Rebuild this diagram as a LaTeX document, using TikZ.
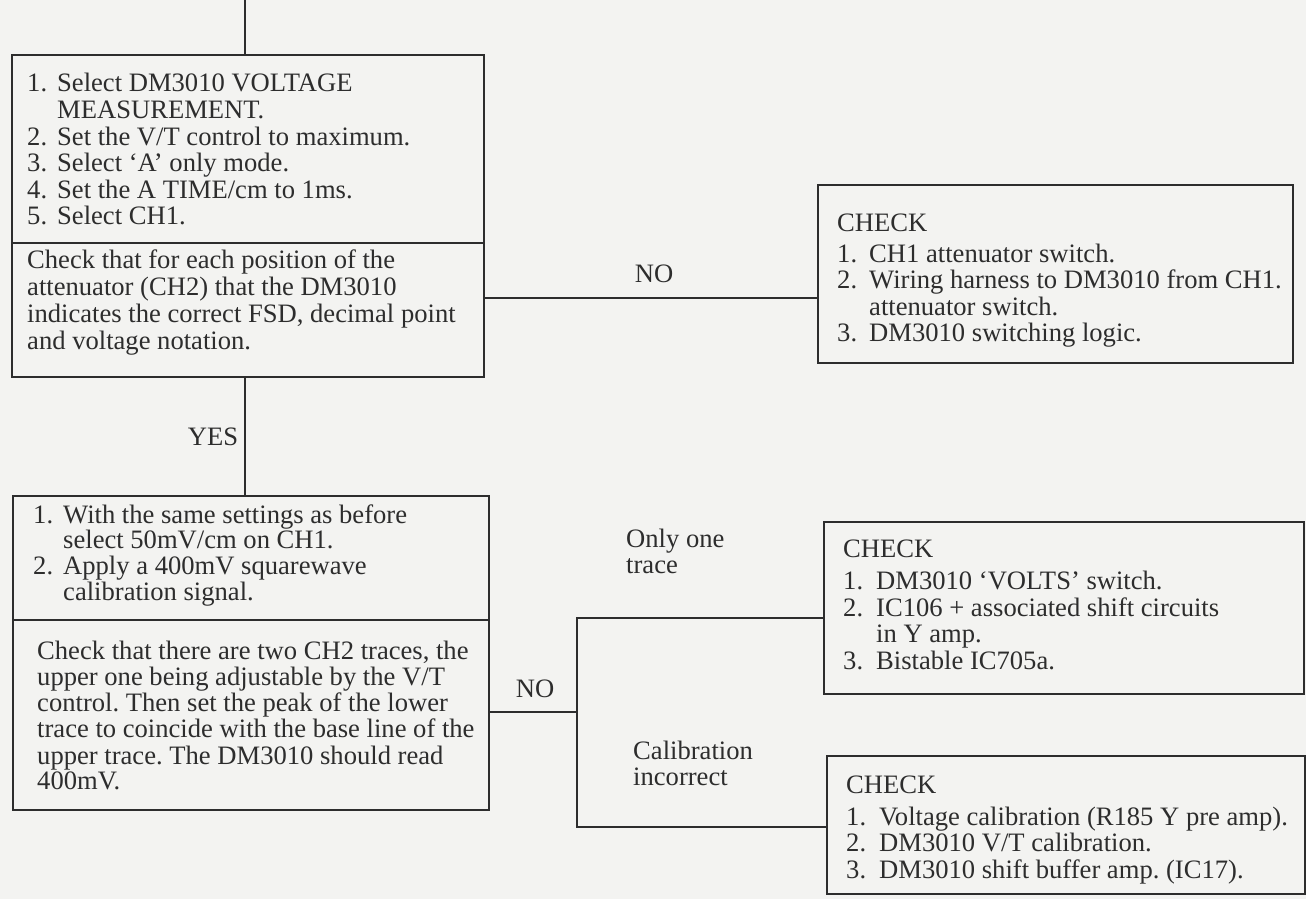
\documentclass[tikz,border=0pt]{standalone}
\usepackage{fontspec}
\setmainfont{Liberation Serif}
\frenchspacing
\definecolor{paper}{RGB}{243,243,241}
\definecolor{ink}{RGB}{45,45,45}
\newcommand\fsz[1]{\fontsize{26.6}{#1}\selectfont\frenchspacing}
\newcommand\lst[2]{\begin{tabular}[t]{@{}p{#1}@{}l@{}}#2\end{tabular}}
\begin{document}
\begin{tikzpicture}[x=1pt,y=-1pt,
  box/.style={draw=ink,line width=1.8pt,inner sep=0pt,outer sep=0pt,anchor=north west},
  wire/.style={draw=ink,line width=1.8pt},
  txt/.style={anchor=base west,inner sep=0pt,text=ink,font=\fsz{#1}},
  txt/.default=26.5,
  lbl/.style={anchor=base,inner sep=0pt,text=ink,font=\fsz{26}},
  lbll/.style={anchor=base west,inner sep=0pt,text=ink,font=\fsz{25.5},align=left}]
\fill[paper] (0,0) rectangle (1306,899);
\useasboundingbox (0,0) rectangle (1306,899);
% boxes
\node[box,minimum width=472pt,minimum height=188pt] (A1) at (12,55) {};
\node[box,minimum width=472pt,minimum height=134pt] (A2) at (12,243) {};
\node[box,minimum width=475pt,minimum height=178pt] (C1) at (818,185) {};
\node[box,minimum width=476pt,minimum height=124pt] (B1) at (13,496) {};
\node[box,minimum width=476pt,minimum height=190pt] (B2) at (13,620) {};
\node[box,minimum width=480pt,minimum height=172pt] (C2) at (824,522) {};
\node[box,minimum width=478pt,minimum height=138pt] (C3) at (827,756) {};
% connectors
\coordinate (top) at (245,0);
\draw[wire] (top) -- (top |- A1.north);
\coordinate (n1) at (484,298);
\draw[wire] (n1) -- (n1 -| C1.west);
\draw[wire] (top |- A2.south) -- (top |- B1.north);
\coordinate (n2) at (489,712);
\coordinate (j) at (577,712);
\coordinate (j1) at (577,618);
\coordinate (j2) at (577,827);
\draw[wire] (n2) -- (j);
\draw[wire] (C2.west |- j1) -- (j1) -- (j2) -- (C3.west |- j2);
% labels
\node[lbl] (no1) at (654,282) {NO};
\node[lbl] (yes) at (213,445) {YES};
\node[lbl] (no2) at (535,697) {NO};
\node[lbll] (one) at (626,573) {Only one\\trace};
\node[lbll] (cal) at (633,785) {Calibration\\incorrect};
% texts
\node[txt=26.6] (tA1) at (27,92) {\lst{30pt}{1. & Select DM3010 VOLTAGE\\ & MEASUREMENT.\\ 2. & Set the V/T control to maximum.\\ 3. & Select ‘A’ only mode.\\ 4. & Set the A TIME/cm to 1ms.\\ 5. & Select CH1.}};
\node[txt=27] (tA2) at (27,268) {\begin{tabular}[t]{@{}l@{}}Check that for each position of the\\ attenuator (CH2) that the DM3010\\ indicates the correct FSD, decimal point\\ and voltage notation.\end{tabular}};
\node[txt=26] (tC1) at (837,231) {\lst{32pt}{\multicolumn{2}{@{}l@{}}{CHECK}\\[5pt] 1. & CH1 attenuator switch.\\ 2. & Wiring harness to DM3010 from CH1.\\ & attenuator switch.\\ 3. & DM3010 switching logic.}};
\node[txt=24.5] (tB1) at (33,523) {\lst{30pt}{1. & With the same settings as before\\ & select 50mV/cm on CH1.\\ 2. & Apply a 400mV squarewave\\ & calibration signal.}};
\node[txt=25.6] (tB2) at (37,659) {\begin{tabular}[t]{@{}l@{}}Check that there are two CH2 traces, the\\ upper one being adjustable by the V/T\\ control. Then set the peak of the lower\\ trace to coincide with the base line of the\\ upper trace. The DM3010 should read\\ 400mV.\end{tabular}};
\node[txt=26.5] (tC2) at (843,557) {\lst{33pt}{\multicolumn{2}{@{}l@{}}{CHECK}\\[6pt] 1. & DM3010 ‘VOLTS’ switch.\\ 2. & IC106 + associated shift circuits\\ & in Y amp.\\ 3. & Bistable IC705a.}};
\node[txt=25] (tC3) at (846,793) {\lst{33pt}{\multicolumn{2}{@{}l@{}}{CHECK}\\[7pt] 1. & Voltage calibration (R185 Y pre amp).\\ 2. & DM3010 V/T calibration.\\ 3. & DM3010 shift buffer amp. (IC17).}};
\end{tikzpicture}
\end{document}
